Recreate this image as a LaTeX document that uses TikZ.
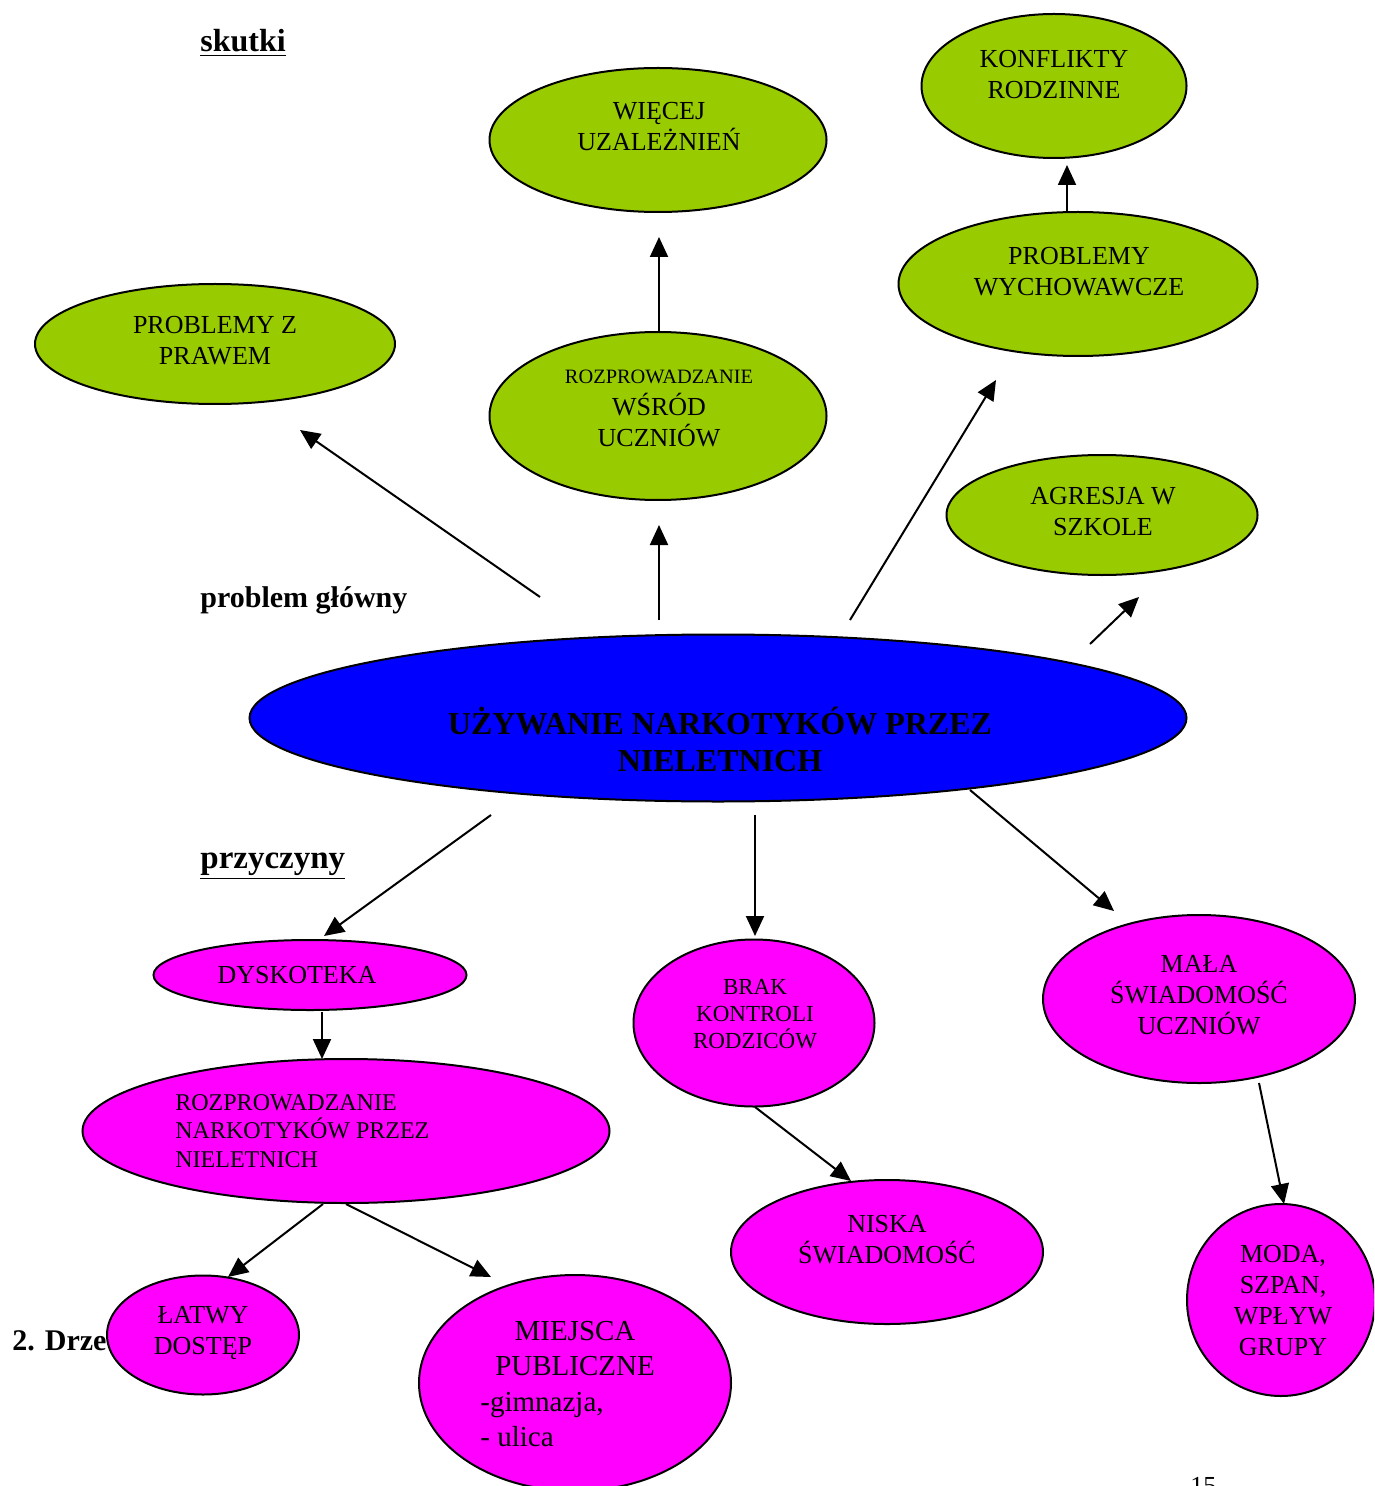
\documentclass[tikz,border=0pt]{standalone}
\usepackage{fontspec}
\setmainfont{Liberation Serif}
\usetikzlibrary{shapes.geometric,arrows.meta}
\definecolor{lgreen}{HTML}{99CC00}
\definecolor{dblue}{HTML}{0000FF}
\definecolor{mag}{HTML}{FF00FF}
\tikzset{
  ell/.style={ellipse, draw=black, line width=1pt, inner sep=0pt},
  gr/.style={ell, fill=lgreen},
  pk/.style={ell, fill=mag},
  txt/.style={align=center, inner sep=0pt, font=\fontsize{13}{15.5}\selectfont},
  arr/.style={line width=1pt, -{Triangle[length=10pt,width=9pt]}},
  head/.style={inner sep=0pt, anchor=base west, font=\fontsize{15}{18}\selectfont\bfseries}
}
\begin{document}
\begin{tikzpicture}[x=0.5pt,y=-0.5pt]
\useasboundingbox (0,0) rectangle (1374,1486);
\clip (0,0) rectangle (1374,1486);
% headings
\node[head, font=\fontsize{16}{18}\selectfont\bfseries] (hs) at (200,52) {\underline{skutki}};
\node[head] (hp) at (200,607) {problem główny};
\node[head, font=\fontsize{16.5}{18}\selectfont\bfseries] (hc) at (200,868) {\underline{przyczyny}};
\node[inner sep=0pt, anchor=base west, font=\fontsize{15}{17}\selectfont\bfseries] (dr) at (12,1350) {2. Drze};
\node[inner sep=0pt, anchor=base west, font=\fontsize{13}{15}\selectfont] (pg) at (1190,1494) {15};
% green ellipses
\node[gr, minimum width=168.5pt, minimum height=72pt] (e1) at (658,140) {};
\node[txt] (t1) at (659,127) {WIĘCEJ\\UZALEŻNIEŃ};
\node[gr, minimum width=132.5pt, minimum height=72pt] (e2) at (1054,86) {};
\node[txt] (t2) at (1054,75) {KONFLIKTY\\RODZINNE};
\node[gr, minimum width=180pt, minimum height=60pt] (e3) at (215,344) {};
\node[txt] (t3) at (215,341) {PROBLEMY Z\\PRAWEM};
\node[gr, minimum width=168.5pt, minimum height=84pt] (e4) at (658,416) {};
\node[txt, font=\fontsize{10.2}{12}\selectfont] (t4a) at (659,377) {ROZPROWADZANIE};
\node[txt] (t4) at (659,420) {WŚRÓD\\UCZNIÓW};
\node[gr, minimum width=179.5pt, minimum height=72pt] (e5) at (1078,284) {};
\node[txt] (t5) at (1079,272) {PROBLEMY\\WYCHOWAWCZE};
\node[gr, minimum width=155.5pt, minimum height=60pt] (e6) at (1102,515) {};
\node[txt] (t6) at (1103,512) {AGRESJA W\\SZKOLE};
% central
\node[ell, fill=dblue, minimum width=468.5pt, minimum height=83.5pt] (c) at (718,718) {};
\node[txt, font=\fontsize{16}{18.5}\selectfont\bfseries] (tc) at (720,739) {UŻYWANIE NARKOTYKÓW PRZEZ\\NIELETNICH};
% pink ellipses
\node[pk, minimum width=156.5pt, minimum height=35pt] (p1) at (310,975) {};
\node[txt] (q1) at (297,975) {DYSKOTEKA};
\node[pk, minimum width=263.5pt, minimum height=72pt] (p2) at (346,1131) {};
\node[txt, align=left, anchor=west, font=\fontsize{12}{14.2}\selectfont] (q2) at (175,1131) {ROZPROWADZANIE\\NARKOTYKÓW PRZEZ\\NIELETNICH};
\node[pk, minimum width=96pt, minimum height=59.5pt] (p3) at (203,1335) {};
\node[txt] (q3) at (203,1333) {ŁATWY\\DOSTĘP};
\node[pk, minimum width=156pt, minimum height=108pt] (p4) at (575,1383) {};
\node[txt, font=\fontsize{14.5}{17.5}\selectfont] (q4) at (575,1349) {MIEJSCA\\PUBLICZNE};
\node[txt, align=left, anchor=west, font=\fontsize{14.5}{17.5}\selectfont] (q4b) at (480,1420) {-gimnazja,\\- ulica};
\node[pk, minimum width=120.5pt, minimum height=83.5pt] (p5) at (754,1023) {};
\node[txt, font=\fontsize{11.5}{13.7}\selectfont] (q5) at (755,1014) {BRAK\\KONTROLI\\RODZICÓW};
\node[pk, minimum width=156pt, minimum height=72pt] (p6) at (887,1252) {};
\node[txt] (q6) at (887,1240) {NISKA\\ŚWIADOMOŚĆ};
\node[pk, minimum width=156pt, minimum height=84pt] (p7) at (1199,999) {};
\node[txt] (q7) at (1199,995) {MAŁA\\ŚWIADOMOŚĆ\\UCZNIÓW};
\node[pk, minimum width=94pt, minimum height=96pt] (p8) at (1281,1300) {};
\node[txt] (q8) at (1283,1301) {MODA,\\SZPAN,\\WPŁYW\\GRUPY};
% arrow end points
\coordinate (a1s) at (540,597); \coordinate (a1e) at (300,430);
\coordinate (a2s) at (659,620); \coordinate (a2e) at (659,525);
\coordinate (a3s) at (659,332); \coordinate (a3e) at (659,237);
\coordinate (a4s) at (850,620); \coordinate (a4e) at (996,380);
\coordinate (a5s) at (1090,644); \coordinate (a5e) at (1139,597);
\coordinate (a6s) at (1067,212); \coordinate (a6e) at (1067,165);
\coordinate (a7s) at (491,815); \coordinate (a7e) at (324,936);
\coordinate (a8s) at (755,815); \coordinate (a8e) at (755,936);
\coordinate (a9s) at (970,790); \coordinate (a9e) at (1114,911);
\coordinate (a10s) at (322,1012); \coordinate (a10e) at (322,1059);
\coordinate (a11s) at (323,1204); \coordinate (a11e) at (228,1277);
\coordinate (a12s) at (346,1204); \coordinate (a12e) at (491,1277);
\coordinate (a13s) at (755,1107); \coordinate (a13e) at (851,1181);
\coordinate (a14s) at (1259,1083); \coordinate (a14e) at (1284,1204);
\foreach \i in {1,...,14} {\draw[arr] (a\i s) -- (a\i e);}
\end{tikzpicture}
\end{document}
